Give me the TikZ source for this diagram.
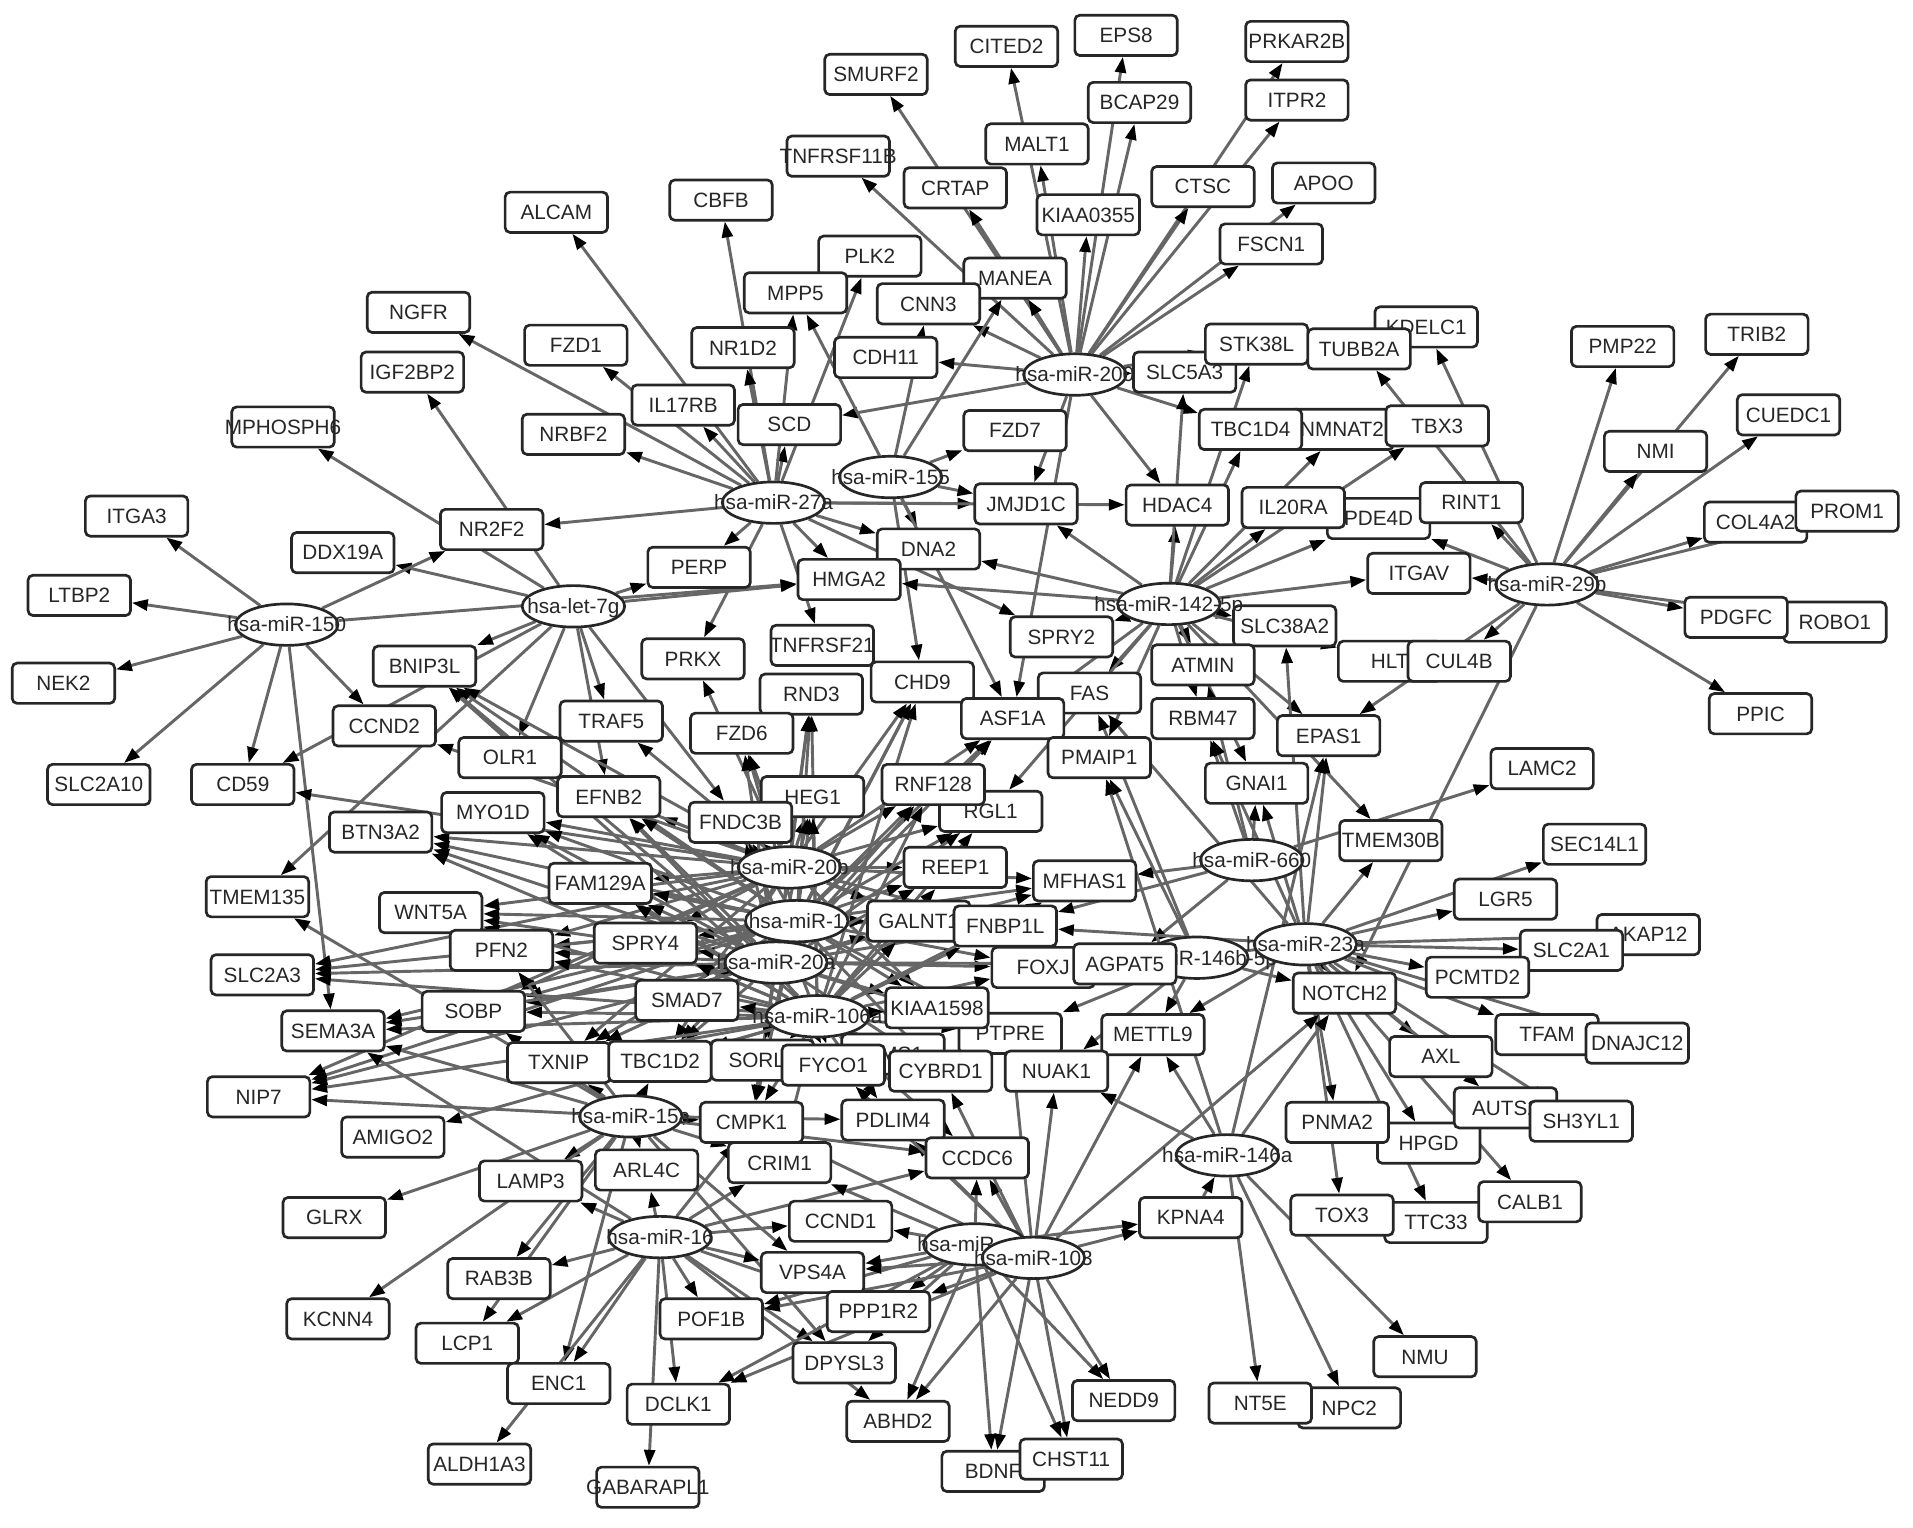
\documentclass[tikz,border=0pt]{standalone}
\usepackage{fontspec}
\setmainfont{Liberation Sans}
\usetikzlibrary{shapes.geometric,arrows.meta,backgrounds}
\newcommand\mb[1]{\makebox[0pt]{#1}}
\begin{document}
\begin{tikzpicture}[x=1pt,y=-1pt,
  gene/.style={draw=black!85, line width=2.2pt, fill=white, rounded corners=4pt,
    minimum width=84pt, minimum height=33pt, inner sep=0pt,
    text height=12pt, text depth=0pt, font=\fontsize{17}{20}\selectfont, text=black!85},
  mirna/.style={ellipse, draw=black!85, line width=2.2pt, fill=white,
    minimum width=84pt, minimum height=34pt, inner sep=0pt,
    text height=12pt, text depth=0pt, font=\fontsize{17}{20}\selectfont, text=black!85},
  edge/.style={draw=black!60, line width=2.4pt, -{Triangle[length=13pt,width=9pt,color=black]}}]
\useasboundingbox (0,0) rectangle (1568,1252);

% ---------- top ----------
\node[gene] (CITED2) at (825,38) {\mb{CITED2}};
\node[gene] (EPS8) at (923,29) {\mb{EPS8}};
\node[gene] (PRKAR2B) at (1063,34) {\mb{PRKAR2B}};
\node[gene] (SMURF2) at (718,61) {\mb{SMURF2}};
\node[gene] (BCAP29) at (934,84) {\mb{BCAP29}};
\node[gene] (ITPR2) at (1063,82) {\mb{ITPR2}};
\node[gene] (MALT1) at (850,118) {\mb{MALT1}};
\node[gene] (TNFRSF11B) at (687,128) {\mb{TNFRSF11B}};
\node[gene] (CRTAP) at (783,154) {\mb{CRTAP}};
\node[gene] (CTSC) at (986,153) {\mb{CTSC}};
\node[gene] (APOO) at (1085,150) {\mb{APOO}};
\node[gene] (KIAA0355) at (892,176) {\mb{KIAA0355}};
\node[gene] (ALCAM) at (456,174) {\mb{ALCAM}};
\node[gene] (CBFB) at (591,164) {\mb{CBFB}};
\node[gene] (FSCN1) at (1042,200) {\mb{FSCN1}};
\node[gene] (PLK2) at (713,210) {\mb{PLK2}};
\node[gene] (MPP5) at (652,240) {\mb{MPP5}};
\node[gene] (MANEA) at (832,228) {\mb{MANEA}};
\node[gene] (CNN3) at (761,249) {\mb{CNN3}};
\node[gene] (NGFR) at (343,256) {\mb{NGFR}};
\node[gene] (KDELC1) at (1169,268) {\mb{KDELC1}};
\node[gene] (PMP22) at (1330,284) {\mb{PMP22}};
\node[gene] (TRIB2) at (1440,274) {\mb{TRIB2}};
\node[gene] (FZD1) at (472,283) {\mb{FZD1}};
\node[gene] (NR1D2) at (609,285) {\mb{NR1D2}};
\node[gene] (CDH11) at (726,293) {\mb{CDH11}};
\node[gene] (SLC5A3) at (971,305) {\mb{SLC5A3}};
\node[gene] (STK38L) at (1030,282) {\mb{STK38L}};
\node[gene] (TUBB2A) at (1114,286) {\mb{TUBB2A}};
\node[gene] (IGF2BP2) at (338,305) {\mb{IGF2BP2}};
\node[gene] (IL17RB) at (560,332) {\mb{IL17RB}};
\node[gene] (CUEDC1) at (1466,340) {\mb{CUEDC1}};
\node[gene] (SCD) at (647,348) {\mb{SCD}};
\node[gene] (FZD7) at (832,353) {\mb{FZD7}};
\node[gene] (NMNAT2) at (1100,352) {\mb{NMNAT2}};
\node[gene] (TBC1D4) at (1025,352) {\mb{TBC1D4}};
\node[gene] (TBX3) at (1178,349) {\mb{TBX3}};
\node[gene] (MPHOSPH6) at (232,350) {\mb{MPHOSPH6}};
\node[gene] (NRBF2) at (470,356) {\mb{NRBF2}};
\node[gene] (NMI) at (1357,370) {\mb{NMI}};
\node[gene] (JMJD1C) at (841,413) {\mb{JMJD1C}};
\node[gene] (HDAC4) at (965,414) {\mb{HDAC4}};
\node[gene] (PDE4D) at (1130,425) {\mb{PDE4D}};
\node[gene] (IL20RA) at (1060,416) {\mb{IL20RA}};
\node[gene] (RINT1) at (1206,412) {\mb{RINT1}};
\node[gene] (COL4A2) at (1439,428) {\mb{COL4A2}};
\node[gene] (PROM1) at (1514,419) {\mb{PROM1}};
\node[gene] (ITGA3) at (112,423) {\mb{ITGA3}};
\node[gene] (NR2F2) at (403,434) {\mb{NR2F2}};
\node[gene] (DDX19A) at (281,453) {\mb{DDX19A}};
\node[gene] (DNA2) at (761,450) {\mb{DNA2}};
\node[gene] (PERP) at (573,465) {\mb{PERP}};
\node[gene] (HMGA2) at (696,475) {\mb{HMGA2}};
\node[gene] (ITGAV) at (1163,470) {\mb{ITGAV}};
\node[gene] (LTBP2) at (65,488) {\mb{LTBP2}};
\node[gene] (ROBO1) at (1504,510) {\mb{ROBO1}};
\node[gene] (PDGFC) at (1423,506) {\mb{PDGFC}};
\node[gene] (SLC38A2) at (1053,513) {\mb{SLC38A2}};
\node[gene] (TNFRSF21) at (674,529) {\mb{TNFRSF21}};
\node[gene] (SPRY2) at (870,522) {\mb{SPRY2}};
\node[gene] (BNIP3L) at (348,546) {\mb{BNIP3L}};
\node[gene] (PRKX) at (568,540) {\mb{PRKX}};
\node[gene] (NEK2) at (52,560) {\mb{NEK2}};
\node[gene] (CHD9) at (756,559) {\mb{CHD9}};
\node[gene] (HLT) at (1139,542) {\mb{HLT}};
\node[gene] (CUL4B) at (1196,542) {\mb{CUL4B}};
\node[gene] (ATMIN) at (986,545) {\mb{ATMIN}};
\node[gene] (FAS) at (893,568) {\mb{FAS}};
\node[gene] (RND3) at (665,569) {\mb{RND3}};
\node[gene] (PPIC) at (1443,585) {\mb{PPIC}};
\node[gene] (CCND2) at (315,595) {\mb{CCND2}};
\node[gene] (TRAF5) at (501,591) {\mb{TRAF5}};
\node[gene] (ASF1A) at (830,589) {\mb{ASF1A}};
\node[gene] (RBM47) at (986,589) {\mb{RBM47}};
\node[gene] (FZD6) at (608,601) {\mb{FZD6}};
\node[gene] (EPAS1) at (1089,603) {\mb{EPAS1}};
\node[gene] (OLR1) at (418,621) {\mb{OLR1}};
\node[gene] (PMAIP1) at (901,621) {\mb{PMAIP1}};
\node[gene] (LAMC2) at (1264,630) {\mb{LAMC2}};
\node[gene] (SLC2A10) at (81,643) {\mb{SLC2A10}};
\node[gene] (CD59) at (199,643) {\mb{CD59}};
\node[gene] (RGL1) at (812,665) {\mb{RGL1}};
\node[gene] (RNF128) at (765,643) {\mb{RNF128}};
\node[gene] (GNAI1) at (1030,642) {\mb{GNAI1}};
\node[gene] (HEG1) at (666,653) {\mb{HEG1}};
\node[gene] (EFNB2) at (499,653) {\mb{EFNB2}};
\node[gene] (FNDC3B) at (607,674) {\mb{FNDC3B}};
\node[gene] (BTN3A2) at (312,682) {\mb{BTN3A2}};
\node[gene] (MYO1D) at (404,666) {\mb{MYO1D}};
\node[gene] (TMEM30B) at (1140,689) {\mb{TMEM30B}};
\node[gene] (SEC14L1) at (1307,692) {\mb{SEC14L1}};
\node[gene] (REEP1) at (783,711) {\mb{REEP1}};
\node[gene] (MFHAS1) at (889,722) {\mb{MFHAS1}};
\node[gene] (FAM129A) at (492,724) {\mb{FAM129A}};
\node[gene] (TMEM135) at (211,735) {\mb{TMEM135}};
\node[gene] (LGR5) at (1234,737) {\mb{LGR5}};
\node[gene] (WNT5A) at (353,748) {\mb{WNT5A}};
\node[gene] (GALNT1) at (753,755) {\mb{GALNT1}};
\node[gene] (FNBP1L) at (824,759) {\mb{FNBP1L}};
\node[gene] (SPRY4) at (529,773) {\mb{SPRY4}};
\node[gene] (PFN2) at (411,779) {\mb{PFN2}};
\node[gene] (AKAP12) at (1351,766) {\mb{AKAP12}};
\node[gene] (SLC2A1) at (1288,779) {\mb{SLC2A1}};
\node[gene] (FOXJ) at (855,793) {\mb{FOXJ}};
\node[mirna] (m146b) at (981,785) {\mb{hsa-miR-146b-5p}};
\node[gene] (AGPAT5) at (922,790) {\mb{AGPAT5}};
\node[gene] (SLC2A3) at (215,799) {\mb{SLC2A3}};
\node[gene] (PCMTD2) at (1211,801) {\mb{PCMTD2}};
\node[gene] (NOTCH2) at (1102,814) {\mb{NOTCH2}};
\node[gene] (SOBP) at (388,829) {\mb{SOBP}};
\node[gene] (SMAD7) at (563,820) {\mb{SMAD7}};
\node[gene] (PTPRE) at (828,847) {\mb{PTPRE}};
\node[gene] (KIAA1598) at (768,826) {\mb{KIAA1598}};
\node[gene] (SEMA3A) at (273,845) {\mb{SEMA3A}};
\node[gene] (METTL9) at (945,848) {\mb{METTL9}};
\node[gene] (TFAM) at (1268,848) {\mb{TFAM}};
\node[gene] (DNAJC12) at (1342,855) {\mb{DNAJC12}};
\node[gene] (TXNIP) at (458,871) {\mb{TXNIP}};
\node[gene] (TBC1D2) at (541,870) {\mb{TBC1D2}};
\node[gene] (SORL1) at (625,869) {\mb{SORL1}};
\node[gene] (LIMS1) at (732,864) {\mb{LIMS1}};
\node[gene] (FYCO1) at (683,873) {\mb{FYCO1}};
\node[gene] (CYBRD1) at (771,878) {\mb{CYBRD1}};
\node[gene] (NUAK1) at (866,878) {\mb{NUAK1}};
\node[gene] (AXL) at (1181,866) {\mb{AXL}};
\node[gene] (NIP7) at (212,899) {\mb{NIP7}};
\node[gene] (CMPK1) at (616,920) {\mb{CMPK1}};
\node[gene] (PDLIM4) at (732,918) {\mb{PDLIM4}};
\node[gene] (HPGD) at (1171,937) {\mb{HPGD}};
\node[gene] (AUTS2) at (1234,908) {\mb{AUTS2}};
\node[gene] (SH3YL1) at (1296,919) {\mb{SH3YL1}};
\node[gene] (PNMA2) at (1096,920) {\mb{PNMA2}};
\node[gene] (AMIGO2) at (322,932) {\mb{AMIGO2}};
\node[gene] (CCDC6) at (801,949) {\mb{CCDC6}};
\node[gene] (CRIM1) at (639,953) {\mb{CRIM1}};
\node[gene] (ARL4C) at (530,959) {\mb{ARL4C}};
\node[gene] (LAMP3) at (435,968) {\mb{LAMP3}};
\node[gene] (GLRX) at (274,998) {\mb{GLRX}};
\node[gene] (CCND1) at (689,1001) {\mb{CCND1}};
\node[gene] (KPNA4) at (976,998) {\mb{KPNA4}};
\node[gene] (TTC33) at (1177,1002) {\mb{TTC33}};
\node[gene] (TOX3) at (1100,996) {\mb{TOX3}};
\node[gene] (CALB1) at (1254,985) {\mb{CALB1}};
\node[gene] (RAB3B) at (409,1048) {\mb{RAB3B}};
\node[gene] (VPS4A) at (666,1043) {\mb{VPS4A}};
\node[gene] (KCNN4) at (277,1081) {\mb{KCNN4}};
\node[gene] (POF1B) at (583,1081) {\mb{POF1B}};
\node[gene] (PPP1R2) at (720,1075) {\mb{PPP1R2}};
\node[gene] (NMU) at (1168,1112) {\mb{NMU}};
\node[gene] (LCP1) at (383,1101) {\mb{LCP1}};
\node[gene] (DPYSL3) at (692,1117) {\mb{DPYSL3}};
\node[gene] (ENC1) at (458,1134) {\mb{ENC1}};
\node[gene] (DCLK1) at (556,1151) {\mb{DCLK1}};
\node[gene] (NPC2) at (1106,1154) {\mb{NPC2}};
\node[gene] (NT5E) at (1033,1150) {\mb{NT5E}};
\node[gene] (NEDD9) at (921,1148) {\mb{NEDD9}};
\node[gene] (ABHD2) at (736,1165) {\mb{ABHD2}};
\node[gene] (BDNF) at (814,1206) {\mb{BDNF}};
\node[gene] (CHST11) at (878,1196) {\mb{CHST11}};
\node[gene] (ALDH1A3) at (393,1200) {\mb{ALDH1A3}};
\node[gene] (GABARAPL1) at (531,1219) {\mb{GABARAPL1}};

% ---------- miRNAs ----------
\node[mirna] (m150) at (235,512) {\mb{hsa-miR-150}};
\node[mirna] (l7g) at (470,497) {\mb{hsa-let-7g}};
\node[mirna] (m27a) at (634,412) {\mb{hsa-miR-27a}};
\node[mirna] (m155) at (730,391) {\mb{hsa-miR-155}};
\node[mirna] (m200) at (881,307) {\mb{hsa-miR-200}};
\node[mirna] (m142) at (958,495) {\mb{hsa-miR-142-5p}};
\node[mirna] (m29b) at (1268,479) {\mb{hsa-miR-29b}};
\node[mirna] (m660) at (1026,705) {\mb{hsa-miR-660}};
\node[mirna] (m23a) at (1070,774) {\mb{hsa-miR-23a}};
\node[mirna] (m146a) at (1006,947) {\mb{hsa-miR-146a}};
\node[mirna] (m20b) at (647,711) {\mb{hsa-miR-20b}};
\node[mirna] (m1) at (653,755) {\mb{hsa-miR-1}};
\node[mirna] (m20a) at (636,789) {\mb{hsa-miR-20a}};
\node[mirna] (m106a) at (670,833) {\mb{hsa-miR-106a}};
\node[mirna] (m15a) at (517,915) {\mb{hsa-miR-15a}};
\node[mirna] (m16) at (541,1014) {\mb{hsa-miR-16}};
\node[mirna] (mx) at (799,1020) {\makebox[0pt][l]{\hspace*{-47pt}hsa-miR}};
\node[mirna] (m103) at (847,1031) {\mb{hsa-miR-103}};

% ---------- edges ----------
\begin{scope}[on background layer]
\fill[white] (0,0) rectangle (1568,1252);
\foreach \t in {SMURF2,CITED2,EPS8,BCAP29,PRKAR2B,ITPR2,MALT1,TNFRSF11B,CRTAP,CTSC,APOO,KIAA0355,FSCN1,CNN3,CDH11,SCD,HDAC4,JMJD1C,STK38L,SLC5A3,MANEA,ASF1A,TBC1D4}
  \draw[edge] (m200) -- (\t);
\foreach \t in {MPP5,MANEA,FZD7,CHD9,DNA2,ASF1A,JMJD1C,CNN3}
  \draw[edge] (m155) -- (\t);
\foreach \t in {NGFR,ALCAM,FZD1,NRBF2,IL17RB,CBFB,NR1D2,PLK2,SCD,NR2F2,PERP,HMGA2,DNA2,JMJD1C,HDAC4,SPRY2,PRKX,TNFRSF21,MPP5}
  \draw[edge] (m27a) -- (\t);
\foreach \t in {MPHOSPH6,IGF2BP2,DDX19A,PERP,HMGA2,BNIP3L,OLR1,TRAF5,EFNB2,FNDC3B,CD59,TMEM135}
  \draw[edge] (l7g) -- (\t);
\foreach \t in {ITGA3,LTBP2,NEK2,SLC2A10,CD59,CCND2,SEMA3A,NR2F2,HMGA2}
  \draw[edge] (m150) -- (\t);
\foreach \t in {TBC1D4,NMNAT2,TBX3,IL20RA,PDE4D,HDAC4,STK38L,SLC5A3,ITGAV,SLC38A2,HLT,ATMIN,RBM47,FAS,SPRY2,ASF1A,JMJD1C,DNA2,HMGA2,GNAI1,EPAS1,TMEM30B,RGL1,PMAIP1}
  \draw[edge] (m142) -- (\t);
\foreach \t in {PMP22,TRIB2,NMI,CUEDC1,COL4A2,PROM1,PDGFC,ROBO1,PPIC,ITGAV,RINT1,KDELC1,TUBB2A,CUL4B,EPAS1,NOTCH2,PDE4D}
  \draw[edge] (m29b) -- (\t);
\foreach \t in {LAMC2,GNAI1,AGPAT5,FNBP1L,MFHAS1,RBM47,ATMIN}
  \draw[edge] (m660) -- (\t);
\foreach \t in {NOTCH2,PCMTD2,SLC2A1,AKAP12,LGR5,SEC14L1,TMEM30B,TFAM,DNAJC12,AXL,AUTS2,SH3YL1,HPGD,PNMA2,TOX3,TTC33,CALB1,EPAS1,GNAI1,SLC38A2,RBM47,FAS,AGPAT5,FNBP1L,METTL9}
  \draw[edge] (m23a) -- (\t);
\foreach \t in {FOXJ,PTPRE,METTL9,NUAK1,PMAIP1,NOTCH2,FAS,AGPAT5}
  \draw[edge] (m146b) -- (\t);
\foreach \t in {NUAK1,METTL9,NOTCH2,NT5E,NPC2,NMU,PMAIP1,EPAS1}
  \draw[edge] (m146a) -- (\t);
\draw[edge] (KPNA4) -- (m146a);
\foreach \t in {BNIP3L,MYO1D,BTN3A2,EFNB2,TRAF5,FZD6,FNDC3B,RND3,HEG1,CHD9,ASF1A,RNF128,RGL1,REEP1,MFHAS1,FAM129A,PFN2,CCND2,OLR1,CD59,PRKX,FOXJ,WNT5A,SPRY4,SMAD7,TBC1D2,SORL1,TXNIP,SOBP,SLC2A3,NIP7,KIAA1598,GALNT1,FNBP1L}
  \draw[edge] (m20b) -- (\t);
\foreach \t in {BNIP3L,MYO1D,BTN3A2,EFNB2,FZD6,FNDC3B,RND3,HEG1,CHD9,ASF1A,RNF128,RGL1,REEP1,MFHAS1,FOXJ,FNBP1L,FAM129A,PFN2,SLC2A3,SPRY4,SMAD7,TBC1D2,KIAA1598,GALNT1,WNT5A,SOBP,TXNIP,SORL1,CMPK1,CYBRD1,PTPRE,NIP7,SEMA3A}
  \draw[edge] (m1) -- (\t);
\foreach \t in {BNIP3L,MYO1D,BTN3A2,RND3,CHD9,RNF128,RGL1,MFHAS1,FNBP1L,FOXJ,KIAA1598,GALNT1,PFN2,SLC2A3,WNT5A,NIP7,SPRY4,SMAD7,TBC1D2,CMPK1,CYBRD1,AGPAT5,PTPRE,FAM129A,HEG1,REEP1,ASF1A,EFNB2,FNDC3B,FZD6,SOBP,TXNIP,SORL1,SEMA3A,FYCO1}
  \draw[edge] (m20a) -- (\t);
\foreach \t in {BNIP3L,MYO1D,BTN3A2,RND3,CHD9,RNF128,FOXJ,KIAA1598,PTPRE,CYBRD1,FYCO1,LIMS1,PDLIM4,CMPK1,CRIM1,SORL1,TBC1D2,TXNIP,SOBP,NIP7,SEMA3A,PFN2,SLC2A3,AMIGO2,WNT5A,GALNT1,FNBP1L,CCDC6,REEP1,MFHAS1,RGL1,HEG1,FAM129A,SPRY4,SMAD7,EFNB2,FNDC3B}
  \draw[edge] (m106a) -- (\t);
\foreach \t in {TXNIP,TBC1D2,CMPK1,ARL4C,LAMP3,SEMA3A,NIP7,GLRX,KCNN4,TMEM135,RAB3B,LCP1,ENC1,CRIM1,CCDC6,PDLIM4,DPYSL3,SOBP,PFN2,VPS4A}
  \draw[edge] (m15a) -- (\t);
\foreach \t in {LAMP3,RAB3B,LCP1,ENC1,ALDH1A3,DCLK1,GABARAPL1,POF1B,VPS4A,DPYSL3,CRIM1,CCND1,CCDC6,ARL4C,CMPK1,SEMA3A,PPP1R2,ABHD2}
  \draw[edge] (m16) -- (\t);
\foreach \t in {VPS4A,PPP1R2,POF1B,DPYSL3,DCLK1,ABHD2,BDNF,CHST11,NEDD9,CCND1,CRIM1,CCDC6,KPNA4}
  \draw[edge] (mx) -- (\t);
\foreach \t in {VPS4A,PPP1R2,DCLK1,ABHD2,BDNF,CHST11,NEDD9,KPNA4,CCDC6,NUAK1,METTL9,NOTCH2,PDLIM4,CYBRD1,POF1B,CMPK1,FYCO1,PTPRE}
  \draw[edge] (m103) -- (\t);
\end{scope}
\end{tikzpicture}
\end{document}
